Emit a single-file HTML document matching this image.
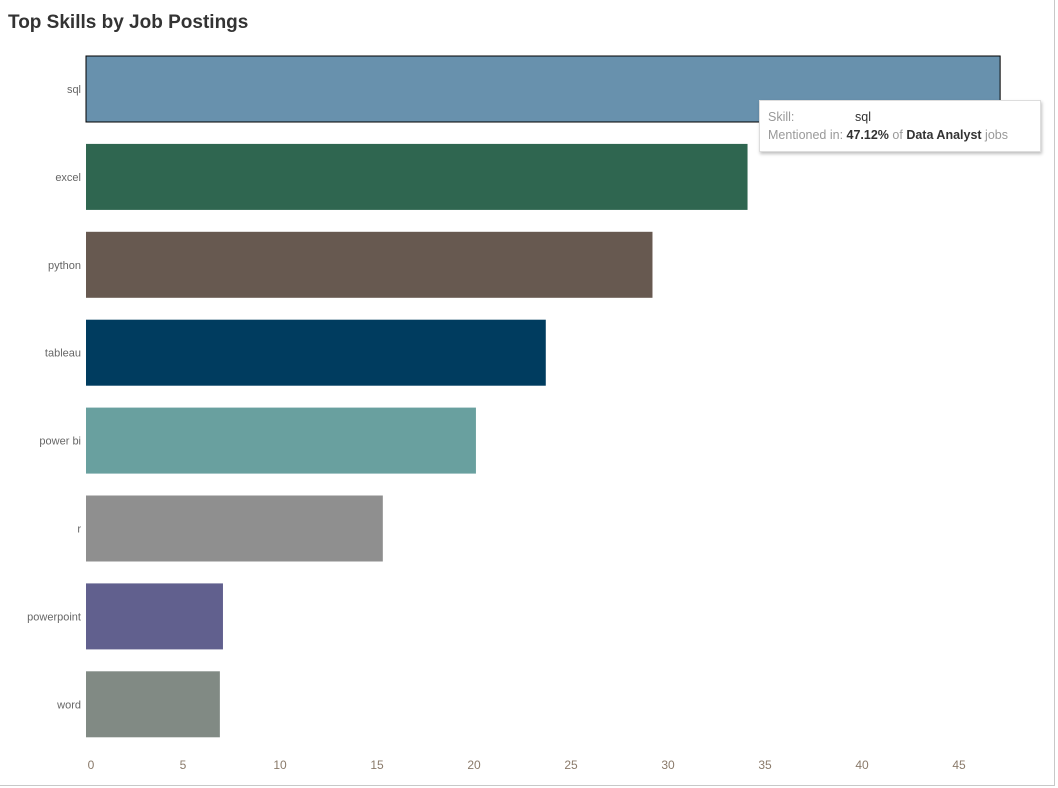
<!DOCTYPE html>
<html><head><meta charset="utf-8"><style>
body{margin:0;width:1058px;height:788px;background:#fff;font-family:"Liberation Sans",sans-serif;overflow:hidden;position:relative}
#frame{position:absolute;left:0;top:0;width:1054px;height:785px;border-right:1px solid #c8c8c8;border-bottom:1px solid #c8c8c8}
#title{position:absolute;left:8px;top:12px;font-size:19px;font-weight:bold;color:#333}
#tip{position:absolute;left:759px;top:100px;width:280px;height:50px;background:#fff;border:1px solid #ddd;box-shadow:1px 2px 3px rgba(0,0,0,.25);font-size:12.5px;color:#999}
#tip div{position:absolute;left:8px;white-space:nowrap}
b{color:#333;font-weight:normal}
</style></head><body>
<div id="frame"></div>
<div id="title">Top Skills by Job Postings</div>
<svg id="chart" width="1058" height="788" style="position:absolute;left:0;top:0"></svg>
<div id="tip">
<div style="top:9px">Skill:<span style="position:absolute;left:87px;color:#333">sql</span></div>
<div style="top:27px">Mentioned in: <b style="font-weight:bold">47.12%</b> of <b style="font-weight:bold">Data Analyst</b> jobs</div>
</div>
<script>
const skills=["sql","excel","python","tableau","power bi","r","powerpoint","word"];
const values=[47.12,34.1,29.2,23.7,20.1,15.3,7.06,6.9];
const colors=["#6891ad","#2f6650","#675950","#003c5f","#69a09f","#8f8f8f","#61608e","#818a84"];
const ticks=[0,5,10,15,20,25,30,35,40,45];
const NS="http://www.w3.org/2000/svg",svg=document.getElementById('chart');
const x=v=>86+v*19.4, yTop=i=>56+i*87.9, bh=66;
function mk(t,a){const e=document.createElementNS(NS,t);for(const k in a)e.setAttribute(k,a[k]);svg.appendChild(e);return e;}
skills.forEach((s,i)=>{
 const r=mk('rect',{x:x(0),y:yTop(i),width:x(values[i])-x(0),height:bh,fill:colors[i]});
 if(i===0){r.setAttribute('stroke','#000');r.setAttribute('stroke-width','1');}
 
 
 const t=mk('text',{x:81,y:yTop(i)+bh/2+4,'text-anchor':'end','font-size':11,fill:'#666'});
 t.textContent=s;
 
 
});
ticks.forEach((v,i)=>{
 const t=mk('text',{x:i===0?x(v)+5:x(v),y:769,'text-anchor':'middle','font-size':12,fill:'#8a7a6a'});
 t.textContent=v;
 
 
});
</script>
</body></html>
